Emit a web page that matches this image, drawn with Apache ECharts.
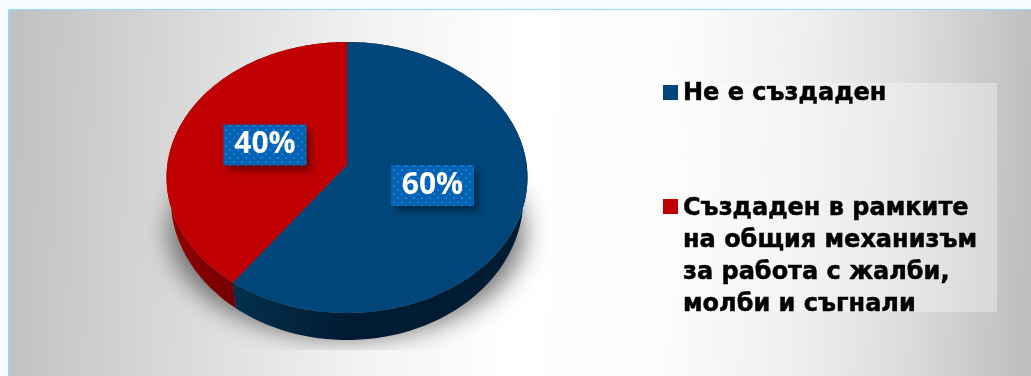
<!DOCTYPE html>
<html>
<head>
<meta charset="utf-8">
<style>html,body{margin:0;padding:0;background:#f5fbff;overflow:hidden}#chart{width:1031px;height:376px}</style>
<script src="https://cdn.jsdelivr.net/npm/echarts@6/dist/echarts.min.js"></script>
</head>
<body>
<div id="chart"></div>
<script>
// Shares of the two answers, in percent
const categories = ['Не е създаден', 'Създаден в рамките на общия механизъм за работа с жалби, молби и съгнали'];
const shares = [60, 40];
const legendLines = [['Не е създаден'], ['Създаден в рамките', 'на общия механизъм', 'за работа с жалби,', 'молби и съгнали']];
const faceColors = ['#00467a', '#c00000'];

// Tilted-disc projection: a unit circle mapped with a slight perspective
const tilt = -0.0923;
const topDisc = { x: 347, y: 165, rx: 179.7, ry: 134.3 };
const baseDisc = { x: 347, y: 184.7, rx: 175.6, ry: 141 };
function project(d, t, r) {
  const X = r * Math.sin(t), Y = -r * Math.cos(t), w = 1 + tilt * Y;
  return [d.x + d.rx * X / w, d.y + d.ry * Y / w];
}
function arc(d, t0, t1) {
  const n = Math.max(2, Math.ceil(Math.abs(t1 - t0) / 0.02)), pts = [];
  for (let i = 0; i <= n; i++) pts.push(project(d, t0 + (t1 - t0) * i / n, 1));
  return pts;
}

// Dotted fill of the value labels
function dotTile() {
  const c = document.createElement('canvas');
  c.width = c.height = 8;
  const g = c.getContext('2d');
  g.fillStyle = '#0562b3'; g.fillRect(0, 0, 8, 8);
  g.fillStyle = '#1580d8'; g.fillRect(1, 1, 2, 2); g.fillRect(5, 5, 2, 2);
  return c;
}
const tile = dotTile();

const wallFills = [
  { type: 'linear', x: 233, y: 0, x2: 520, y2: 0, global: true, colorStops: [{ offset: 0, color: '#04304e' }, { offset: 0.4, color: '#001b33' }, { offset: 1, color: '#001c33' }] },
  { type: 'linear', x: 170, y: 0, x2: 234, y2: 0, global: true, colorStops: [{ offset: 0, color: '#930000' }, { offset: 1, color: '#720000' }] }
];

function wedgeRenderer(index) {
  return function (params, api) {
    const share = api.value(0);
    const total = shares.reduce((a, b) => a + b, 0);
    const before = shares.slice(0, index).reduce((a, b) => a + b, 0);
    const t0 = before / total * 2 * Math.PI;
    const t1 = (before + share) / total * 2 * Math.PI;
    const mid = (t0 + t1) / 2;
    const c = project(topDisc, mid, 0.49);
    const lw = 83, lh = 41;
    const cx = c[0] + 0.5, cy = c[1];
    return {
      type: 'group',
      children: [
        { type: 'polygon', z2: 1, shape: { points: arc(topDisc, t0, t1).concat(arc(baseDisc, t1, t0)) }, style: { fill: wallFills[index] } },
        { type: 'polygon', z2: 2, shape: { points: [[topDisc.x, topDisc.y]].concat(arc(topDisc, t0, t1)) }, style: { fill: faceColors[index] } },
        { type: 'rect', z2: 3, shape: { x: cx - lw / 2, y: cy - lh / 2, width: lw, height: lh },
          style: { fill: { image: tile, repeat: 'repeat' }, shadowBlur: 7, shadowOffsetX: 5, shadowOffsetY: 5, shadowColor: 'rgba(0,0,0,0.4)' } },
        { type: 'text', z2: 4, style: { x: cx, y: cy, text: share + '%', align: 'center', verticalAlign: 'middle', fill: '#fff', font: 'bold 30px "Open Sans"' } }
      ]
    };
  };
}

// Soft cast shadow below the disc: the outline sits off-canvas so only its blur lands on the page,
// and a straight edge cuts it off at the bottom
const shadowShift = 2000;
function shadowRenderer() {
  const pts = [];
  for (let a = 0; a < 360; a += 3) {
    const r = a * Math.PI / 180;
    pts.push([347 - shadowShift + 178 * Math.cos(r), 232 + 106 * Math.sin(r)]);
  }
  return {
    type: 'polygon',
    shape: { points: pts },
    style: { fill: '#000', shadowBlur: 24, shadowOffsetX: shadowShift, shadowColor: 'rgba(70,70,70,0.72)' },
    clipPath: { type: 'rect', shape: { x: 100, y: 165, width: 500, height: 185 } }
  };
}

const pageGradient = {
  type: 'linear', x: 10, y: 10, x2: 1031, y2: 50, global: true,
  colorStops: [
    { offset: 0, color: '#c0c0c0' }, { offset: 0.18, color: '#dadada' }, { offset: 0.36, color: '#f3f3f3' },
    { offset: 0.5, color: '#ffffff' }, { offset: 0.65, color: '#fcfcfc' }, { offset: 0.78, color: '#efefef' },
    { offset: 0.88, color: '#dedede' }, { offset: 1, color: '#bfbfbf' }
  ]
};

const legendText = { fontFamily: 'DejaVu Sans', fontWeight: 'bold', fontSize: 24, lineHeight: 32, color: '#000', textBorderColor: '#000', textBorderWidth: 0.5 };
// Square marker pinned to the top of a taller legend slot, so it sits on the first line
function markerPath(h) { return 'path://M0 0H15V15H0Z M0 ' + h + 'H15V' + h + 'H0Z'; }

const chart = echarts.init(document.getElementById('chart'), null, { renderer: 'canvas' });
chart.setOption({
  animation: false,
  backgroundColor: '#f5fbff',
  graphic: [
    { type: 'rect', z: -3, silent: true, shape: { x: 8, y: 9, width: 1023, height: 367 }, style: { fill: '#99d6ff' } },
    { type: 'rect', z: -2, silent: true, shape: { x: 10, y: 10, width: 1021, height: 366 }, style: { fill: pageGradient } },
    { type: 'rect', z: -1, silent: true, shape: { x: 642, y: 83, width: 355, height: 229 }, style: { fill: 'rgba(255,255,255,0.33)' } },
    { type: 'rect', z: 20, silent: true, shape: { x: 642, y: 312, width: 355, height: 14 }, style: { fill: pageGradient } }
  ],
  legend: [
    { data: [categories[0]], left: 663, top: 77.5, itemWidth: 15, itemHeight: 17, itemGap: 6, icon: markerPath(17), selectedMode: false,
      padding: 0, formatter: () => legendLines[0].join('\n'), textStyle: legendText },
    { data: [categories[1]], left: 663, top: 193, itemWidth: 15, itemHeight: 116, itemGap: 6, icon: markerPath(116), selectedMode: false,
      padding: 0, formatter: () => legendLines[1].join('\n'), textStyle: legendText }
  ],
  series: [
    { type: 'custom', name: 'сянка', coordinateSystem: 'none', silent: true, z: 1, data: [[1]], renderItem: shadowRenderer },
    ...categories.map((name, i) => ({
      type: 'custom', name, coordinateSystem: 'none', silent: true, z: 2,
      itemStyle: { color: faceColors[i] },
      data: [[shares[i]]], renderItem: wedgeRenderer(i)
    }))
  ]
});
</script>
</body>
</html>
